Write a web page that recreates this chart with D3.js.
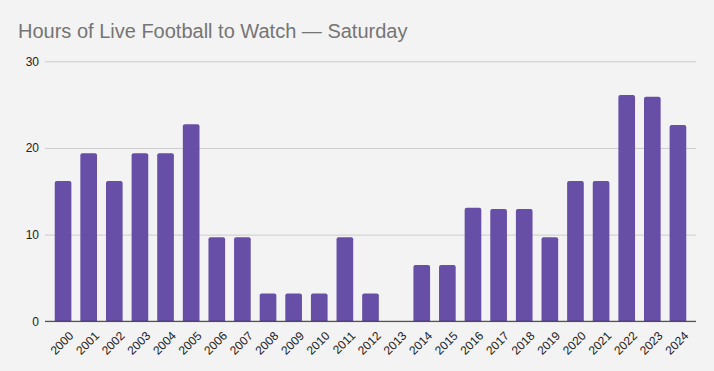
<!DOCTYPE html>
<html>
<head>
<meta charset="utf-8">
<script src="https://cdn.jsdelivr.net/npm/d3@7/dist/d3.min.js"></script>
<style>
  html, body { margin: 0; padding: 0; background: #f3f3f3; }
  svg { display: block; font-family: "Liberation Sans", Arial, sans-serif; }
</style>
</head>
<body>
<svg id="chart" width="714" height="371"></svg>
<script>
const years = ["2000","2001","2002","2003","2004","2005","2006","2007","2008","2009","2010","2011","2012","2013","2014","2015","2016","2017","2018","2019","2020","2021","2022","2023","2024"];
const hours = [16.2,19.4,16.2,19.4,19.4,22.75,9.7,9.7,3.2,3.2,3.2,9.7,3.2,0,6.5,6.5,13.1,12.95,12.95,9.7,16.2,16.2,26.1,25.9,22.65];
const yTicks = [0,10,20,30];
const title = "Hours of Live Football to Watch — Saturday";

(function () {
const svg = d3.select("#chart");
const W = 714, H = 371;
svg.append("rect").attr("width", W).attr("height", H).attr("fill", "#f3f3f3");

const mLeft = 45, mRight = 696, mTop = 61.3, mBottom = 321.3;

const x = d3.scaleBand().domain(years).range([mLeft, mRight]).paddingInner(0.35).paddingOuter(0.38);
const y = d3.scaleLinear().domain([0, 30]).range([mBottom, mTop]);

// gridlines
const yAxis = d3.axisLeft(y).tickValues(yTicks).tickSize(-(mRight - mLeft)).tickPadding(6).tickFormat(d3.format("d"));
const gy = svg.append("g").attr("transform", `translate(${mLeft},0)`).call(yAxis);
gy.select(".domain").remove();
gy.selectAll(".tick line").attr("stroke", "#cccccc").attr("stroke-width", 1);
gy.selectAll(".tick text").attr("fill", "#222").attr("font-size", 12).attr("x", -6);

// bars with rounded top corners
const r = 2;
svg.append("g").selectAll("path").data(years).join("path")
  .attr("fill", "#674ea7")
  .attr("d", (d, i) => {
    const x0 = x(d), w = x.bandwidth(), y0 = y(hours[i]), yb = y(0);
    const h = yb - y0;
    if (h <= 0) return "";
    const rr = Math.min(r, h);
    return `M${x0},${yb}V${y0 + rr}Q${x0},${y0} ${x0 + rr},${y0}H${x0 + w - rr}Q${x0 + w},${y0} ${x0 + w},${y0 + rr}V${yb}Z`;
  });

// baseline
svg.append("line").attr("x1", mLeft).attr("x2", mRight).attr("y1", mBottom).attr("y2", mBottom)
  .attr("stroke", "#333").attr("stroke-width", 1);

// x axis labels
const xAxis = d3.axisBottom(x).tickSize(0).tickPadding(0);
const gx = svg.append("g").attr("transform", `translate(0,${mBottom})`).call(xAxis);
gx.select(".domain").remove();
gx.selectAll(".tick text")
  .attr("fill", "#222").attr("font-size", 12)
  .attr("text-anchor", "end")
  .attr("dy", null)
  .attr("transform", "translate(5,9) rotate(-45)")
  .attr("x", 0).attr("y", 0).attr("dominant-baseline", "hanging");

// title
svg.append("text").attr("x", 18).attr("y", 38).attr("fill", "#757575")
  .attr("font-size", 20).text(title);
})();
</script>
</body>
</html>
